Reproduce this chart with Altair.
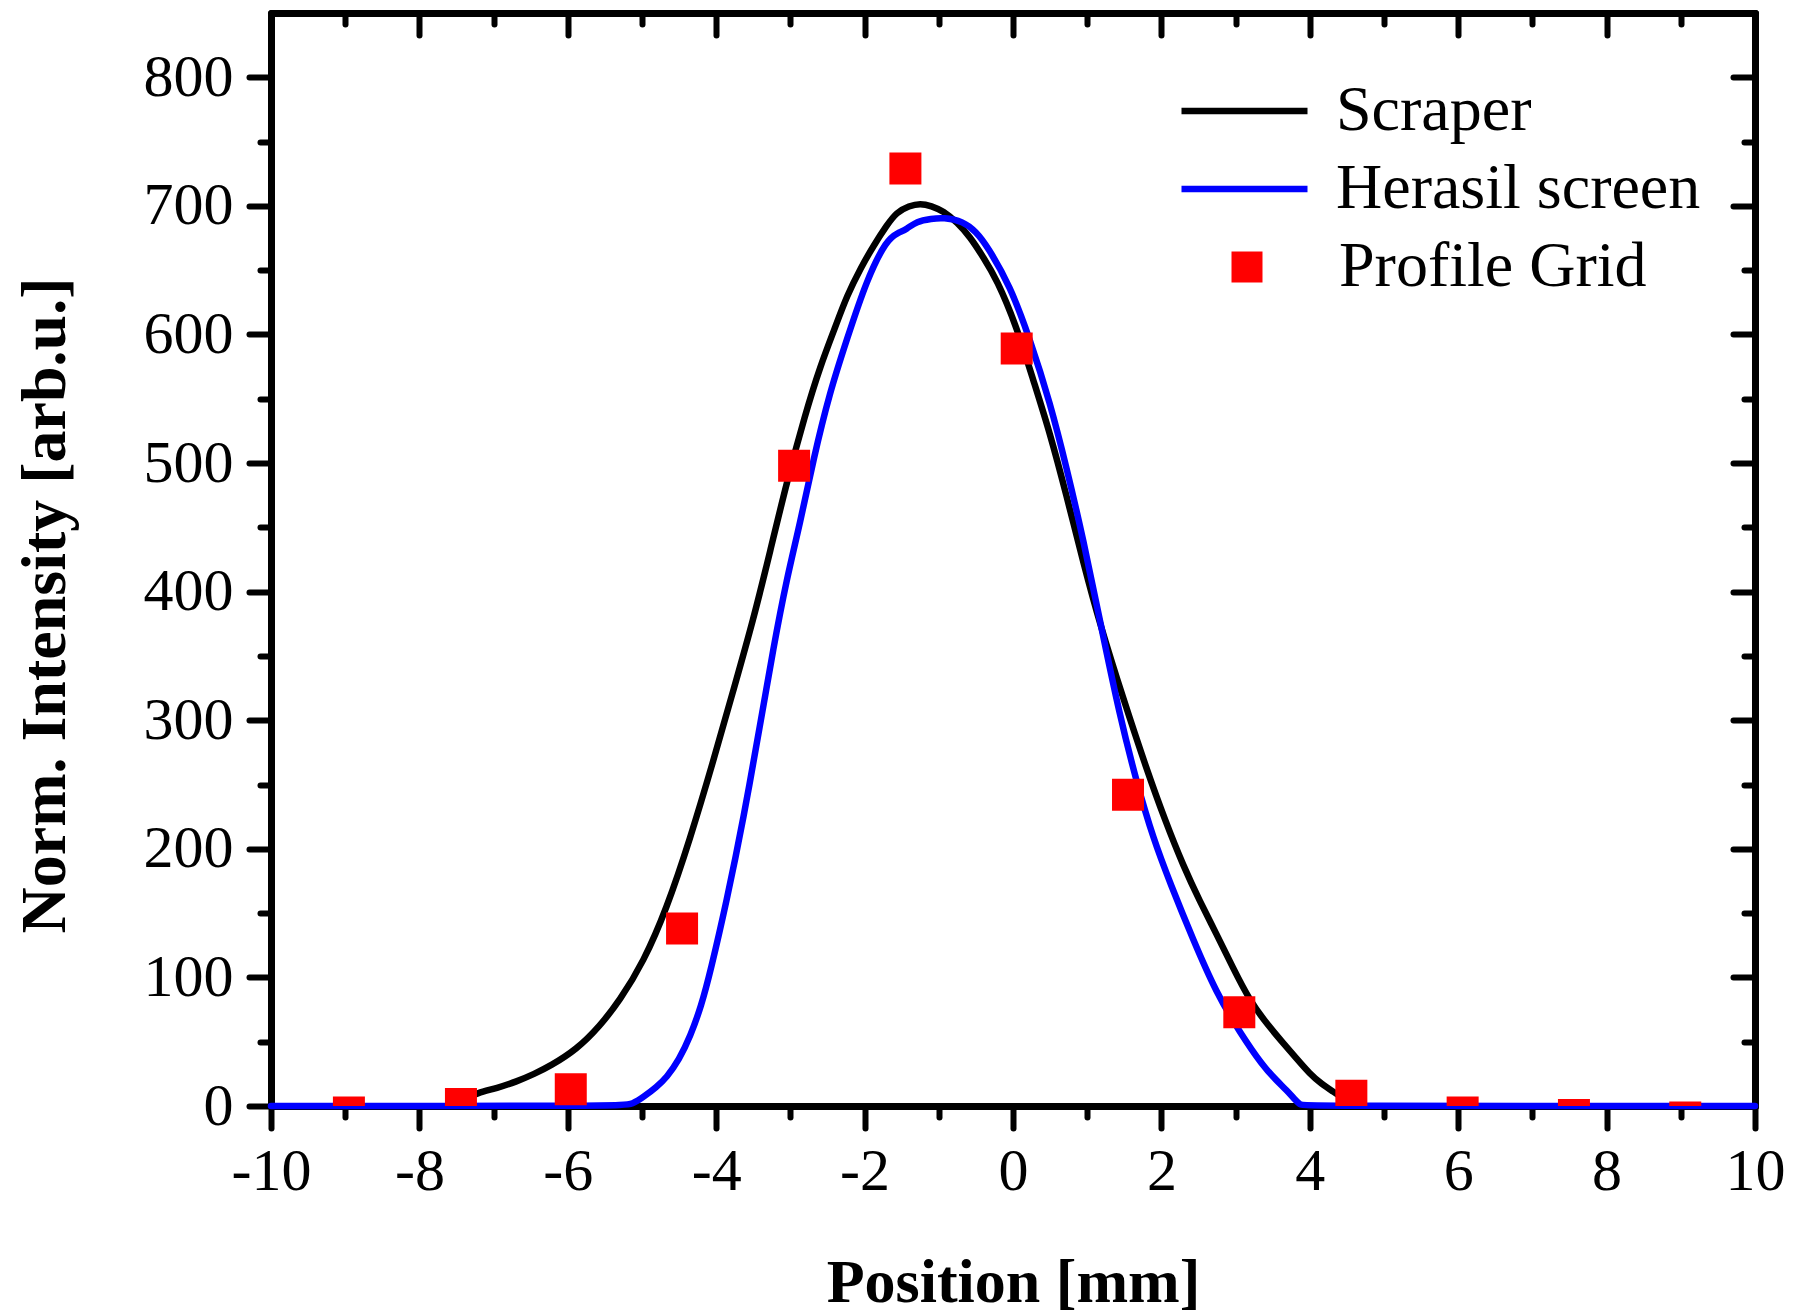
import altair as alt
import pandas as pd

# ---------------- data ----------------
scraper_x = [-7.35, -7.23, -6.95, -6.69, -6.45, -6.24, -5.88, -5.57, -5.30, -4.98, -4.67,
             -4.35, -4.04, -3.77, -3.50, -3.27, -3.05, -2.80, -2.60, -2.40, -2.24, -2.05,
             -1.88, -1.70, -1.57, -1.40, -1.25, -1.10, -0.94, -0.75, -0.58, -0.40, -0.22,
             0.05, 0.27, 0.50, 0.72, 0.95, 1.17, 1.49, 1.80, 2.05, 2.30, 2.52, 2.74, 2.96,
             3.19, 3.42, 3.64, 3.82, 4.00, 4.16, 4.32, 4.45]
scraper_y = [6, 10, 14, 19, 25, 31, 44, 62, 82, 112, 153,
             208, 268, 323, 378, 432, 485, 538, 575, 605, 630, 652,
             669, 685, 695, 700, 702, 700, 696, 687, 676, 660, 643,
             606, 565, 523, 475, 422, 375, 316, 262, 222, 186, 159, 134, 108,
             82, 64, 49, 37, 25, 17, 11, 6]

herasil_x = [-10, -5.30, -5.12, -4.98, -4.80, -4.67, -4.50, -4.35, -4.20, -4.08, -3.86,
             -3.63, -3.41, -3.23, -3.05, -2.87, -2.69, -2.47, -2.24, -1.97, -1.70, -1.55,
             -1.43, -1.30, -1.10, -0.94, -0.67, -0.50, -0.35, -0.04, 0.23, 0.50, 0.72,
             0.95, 1.17, 1.44, 1.67, 1.89, 2.12, 2.43, 2.74, 3.06, 3.37, 3.55, 3.69, 3.80,
             3.87, 3.92, 10]
herasil_y = [0, 0, 1.5, 7, 15, 22, 36, 54, 78, 104, 159,
             224, 296, 356, 410, 453, 503, 555, 596, 643, 674, 679,
             682, 688, 690, 691, 688, 680, 669, 638, 596, 547, 497,
             440, 378, 303, 251, 208, 173, 129, 88, 57, 31, 20, 12, 5,
             1, 0, 0]

grid_x = [-8.95, -7.44, -5.96, -4.46, -2.95, -1.45, 0.05, 1.55, 3.05, 4.56, 6.06, 7.56, 9.06]
grid_y = [-5, 1.5, 13, 138, 498, 729, 589, 242, 73, 8, -5, -7, -9]

x_ticks = list(range(-10, 11))
y_ticks = list(range(0, 801, 50))

series_names = ["Scraper", "Herasil screen", "Profile Grid"]
line_colors = ["#000000", "#0000ff"]

# ---------------- tables ----------------
scraper_df = pd.DataFrame({"x": scraper_x, "y": scraper_y, "series": series_names[0]})
herasil_df = pd.DataFrame({"x": herasil_x, "y": herasil_y, "series": series_names[1]})
grid_df = pd.DataFrame({"x": grid_x, "y": grid_y, "series": series_names[2]})

FONT = "Liberation Serif"
W, H = 1484, 1093

common = dict(
    domainColor="black", domainWidth=7, domainCap="round",
    tickColor="black", tickWidth=6, tickCap="round", grid=False,
    labelFont=FONT, labelFontSize=60, labelColor="black",
    labelFlush=False, labelOverlap=False,
)
x_tick_size = {"condition": {"test": "datum.value % 2 === 0", "value": 22}, "value": 11}
y_tick_size = {"condition": {"test": "datum.value % 100 === 0", "value": 22}, "value": 11}

x_scale = alt.Scale(domain=[-10, 10], nice=False, zero=False)
y_scale = alt.Scale(domain=[0, 850], nice=False, zero=False)

x_main = alt.Axis(
    orient="bottom", values=x_ticks, tickSize=x_tick_size,
    labelExpr="datum.value % 2 === 0 ? '' + datum.value : ''", labelPadding=14,
    title="Position [mm]", titleFont=FONT, titleFontSize=62, titleFontWeight="bold",
    titleColor="black", titleX=742, titleY=195, titleAlign="center",
    titleBaseline="alphabetic", **common)
y_main = alt.Axis(
    orient="left", values=y_ticks, tickSize=y_tick_size,
    labelExpr="datum.value % 100 === 0 ? '' + datum.value : ''", labelPadding=16,
    title="Norm. Intensity [arb.u.]", titleFont=FONT, titleFontSize=64,
    titleFontWeight="bold", titleColor="black", titleX=-207, titleY=592,
    titleAngle=270, titleAlign="center", titleBaseline="alphabetic", **common)
x_mirror = alt.Axis(orient="bottom", offset=-H, values=x_ticks, tickSize=x_tick_size,
                    labels=False, title=None, **common)
y_mirror = alt.Axis(orient="left", offset=-W, values=y_ticks, tickSize=y_tick_size,
                    labels=False, title=None, **common)

line_legend = alt.Legend(
    orient="none", legendX=907, legendY=66, title=None, symbolType="stroke",
    symbolSize=15876, symbolStrokeWidth=6.5, labelFont=FONT, labelFontSize=64,
    labelColor="black", labelOffset=25, clipHeight=64, rowPadding=14, padding=0,
    labelLimit=0)
color_enc = alt.Color("series:N", scale=alt.Scale(domain=series_names[:2], range=line_colors),
                      legend=line_legend)

line_style = dict(strokeWidth=6.5, interpolate="basis", strokeCap="round", strokeJoin="round")

scraper = alt.Chart(scraper_df).mark_line(**line_style).encode(
    x=alt.X("x:Q", scale=x_scale, axis=x_main),
    y=alt.Y("y:Q", scale=y_scale, axis=y_main),
    color=color_enc,
)

herasil = alt.Chart(herasil_df).mark_line(**line_style).encode(
    x=alt.X("x:Q", scale=x_scale, axis=x_mirror),
    y=alt.Y("y:Q", scale=y_scale, axis=y_mirror),
    color=color_enc,
)

points = alt.Chart(grid_df).mark_point(
    filled=True, size=1024, color="#ff0000", opacity=1, clip=True
).encode(
    x=alt.X("x:Q", scale=x_scale, axis=None),
    y=alt.Y("y:Q", scale=y_scale, axis=None),
    shape=alt.Shape("series:N", scale=alt.Scale(domain=series_names[2:], range=["square"]),
                    legend=alt.Legend(orient="none", legendX=944, legendY=222, title=None,
                                      symbolSize=961, symbolFillColor="#ff0000",
                                      symbolStrokeWidth=0, labelFont=FONT, labelFontSize=64,
                                      labelColor="black", labelOffset=60, padding=0,
                                      labelLimit=0)),
)

chart = alt.layer(scraper, herasil, points).resolve_axis(
    x="independent", y="independent"
).properties(
    width=W, height=H,
    autosize=alt.AutoSizeParams(type="none"),
    padding={"left": 271, "top": 13, "right": 39, "bottom": 210},
    background="white",
).configure_view(strokeWidth=0)

chart.save("out.html", embed_options={"renderer": "svg", "actions": False})
